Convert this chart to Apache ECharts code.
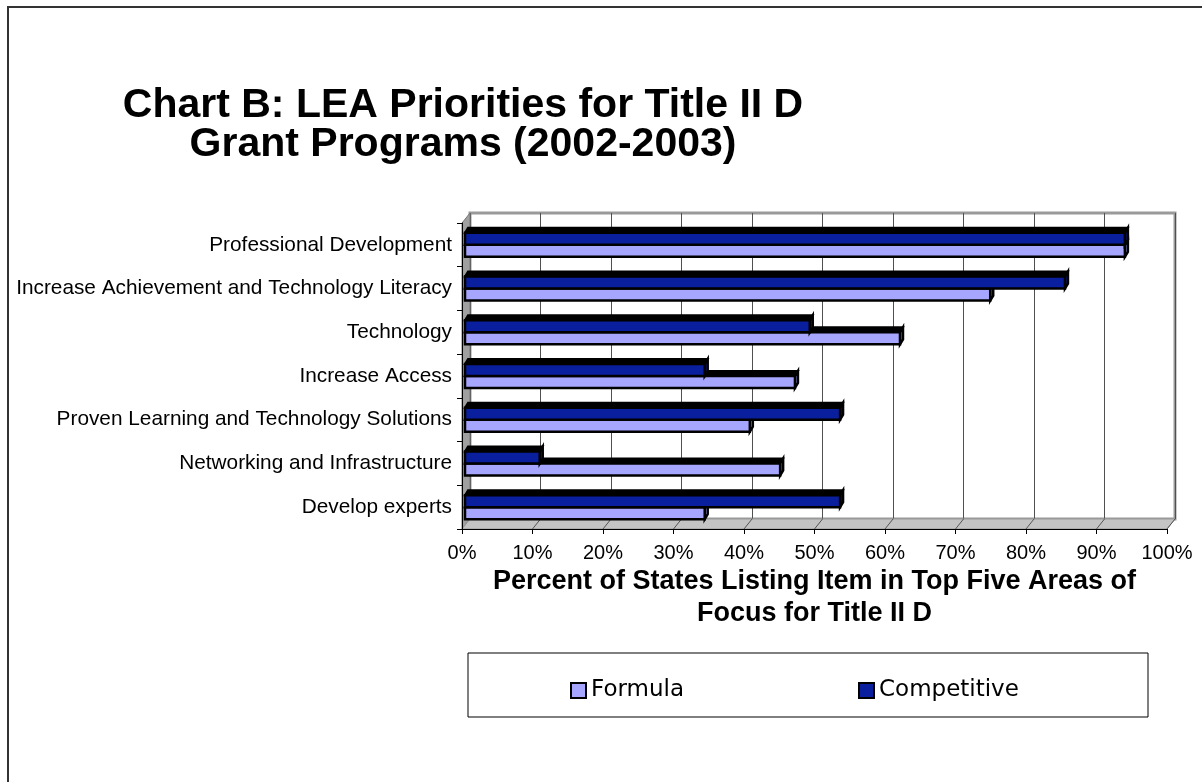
<!DOCTYPE html>
<html>
<head>
<meta charset="utf-8">
<script src="https://cdn.jsdelivr.net/npm/echarts@6/dist/echarts.min.js"></script>
<style>
  html, body { margin: 0; padding: 0; background: #fff; }
  #chart { width: 1202px; height: 782px; }
</style>
</head>
<body>
<div id="chart"></div>
<script>
// Priority areas, listed top to bottom
const categories = [
  'Professional Development',
  'Increase Achievement and Technology Literacy',
  'Technology',
  'Increase Access',
  'Proven Learning and Technology Solutions',
  'Networking and Infrastructure',
  'Develop experts'
];
// Percent of states listing each item (0-100)
const formula     = [93.6, 74.5, 61.7, 46.8, 40.4, 44.7, 34.0];
const competitive = [93.6, 85.1, 48.9, 34.0, 53.2, 10.6, 53.2];
const seriesNames = ['Formula', 'Competitive'];
const axisMax = 100;
const axisStep = 10;

const FONT = "'Liberation Sans', Arial, sans-serif";
const LIGHT = '#a6a6ff';
const DARK = '#0a1f9e';

// Front plane of the pseudo-3D box, and the depth offset of the back wall
const front = { left: 462, top: 223, width: 705, height: 306 };
const depth = { dx: 8, dy: -10 };
const barShift = { dx: 3, dy: 0 };
const BAR_H = 12;
const BAR_DEPTH = { x: 3, y: 5 };

function gridAt(dx, dy, extra) {
  return Object.assign({
    left: front.left + dx,
    top: front.top + dy,
    width: front.width,
    height: front.height,
    containLabel: false
  }, extra || {});
}

const chart = echarts.init(document.getElementById('chart'), null, { renderer: 'canvas' });

// Walls, floor and frame decorations derived from the box layout
const fx = v => front.left + front.width * v / axisMax;
const bottom = front.top + front.height;
const graphics = [
  { type: 'rect', z: 0, shape: { x: 8, y: 7, width: 1400, height: 1000 },
    style: { fill: 'none', stroke: '#333', lineWidth: 2 } },
  { type: 'polygon', z: 1,
    shape: { points: [[front.left, front.top], [front.left + depth.dx, front.top + depth.dy],
                      [front.left + depth.dx, bottom + depth.dy], [front.left, bottom]] },
    style: { fill: '#a0a0a0', stroke: '#777', lineWidth: 1 } },
  { type: 'polygon', z: 1,
    shape: { points: [[front.left, bottom], [front.left + depth.dx, bottom + depth.dy],
                      [fx(axisMax) + depth.dx, bottom + depth.dy], [fx(axisMax), bottom]] },
    style: { fill: '#c4c4c4', stroke: '#999', lineWidth: 1 } },
  { type: 'rect', z: 1, shape: { x: 468, y: 653, width: 680, height: 64 },
    style: { fill: 'none', stroke: '#000', lineWidth: 1 } }
];
for (let v = axisStep; v <= axisMax; v += axisStep) {
  graphics.push({ type: 'line', z: 1,
    shape: { x1: fx(v), y1: bottom, x2: fx(v) + depth.dx, y2: bottom + depth.dy },
    style: { stroke: '#555', lineWidth: 1 } });
}

// A bar with a front face, a dark top face and a small end face.
// slot -1 puts the bar above the band centre, slot 0 below it.
function bar3d(slot, fill) {
  return function (params, api) {
    const v = api.value(0);
    const c = api.value(1);
    const p0 = api.coord([0, c]);
    const p1 = api.coord([v, c]);
    const x0 = p0[0];
    const x1 = p1[0];
    const top = p0[1] + slot * BAR_H;
    const h = BAR_H;
    const d = BAR_DEPTH;
    return {
      type: 'group',
      children: [
        { type: 'polygon',
          shape: { points: [[x0, top], [x0 + d.x, top - d.y], [x1 + d.x, top - d.y], [x1, top]] },
          style: { fill: '#000', stroke: '#000', lineWidth: 2 } },
        { type: 'polygon',
          shape: { points: [[x1, top], [x1 + d.x, top - d.y], [x1 + d.x, top + h - d.y], [x1, top + h]] },
          style: { fill: fill, stroke: '#000', lineWidth: 2.5 } },
        { type: 'rect',
          shape: { x: x0, y: top, width: x1 - x0, height: h },
          style: { fill: fill, stroke: '#000', lineWidth: 2.5 } }
      ]
    };
  };
}

chart.setOption({
  animation: false,
  backgroundColor: '#fff',
  title: {
    text: 'Chart B: LEA Priorities for Title II D\nGrant Programs (2002-2003)',
    left: 458,
    textAlign: 'center',
    top: 81,
    textStyle: { fontFamily: FONT, fontSize: 41, fontWeight: 'bold', color: '#000', lineHeight: 39 }
  },
  legend: {
    data: seriesNames,
    left: 570,
    top: 679,
    padding: 0,
    itemWidth: 15,
    itemHeight: 15,
    itemGap: 174,
    icon: 'rect',
    itemStyle: { borderColor: '#000', borderWidth: 2 },
    textStyle: { fontFamily: "'DejaVu Sans', Verdana, sans-serif", fontSize: 23, color: '#000' }
  },
  graphic: graphics,
  grid: [
    gridAt(0, 0),
    gridAt(depth.dx, depth.dy, { show: true, backgroundColor: '#fff', borderColor: '#9a9a9a', borderWidth: 3 }),
    gridAt(barShift.dx, barShift.dy)
  ],
  xAxis: [
    {
      gridIndex: 0, type: 'value', min: 0, max: axisMax, interval: axisStep, z: 3,
      axisLine: { show: true, lineStyle: { color: '#000', width: 1 } },
      axisTick: { show: true, inside: false, length: 5, lineStyle: { color: '#000' } },
      axisLabel: { formatter: '{value}%', fontFamily: FONT, fontSize: 20, color: '#000', margin: 14 },
      splitLine: { show: false },
      name: 'Percent of States Listing Item in Top Five Areas of\nFocus for Title II D',
      nameLocation: 'middle',
      nameGap: 37,
      nameTextStyle: { fontFamily: FONT, fontSize: 27, fontWeight: 'bold', color: '#000', lineHeight: 32 }
    },
    {
      gridIndex: 1, type: 'value', min: 0, max: axisMax, interval: axisStep,
      axisLine: { show: false }, axisTick: { show: false }, axisLabel: { show: false },
      splitLine: { show: true, lineStyle: { color: '#505050', width: 1 } }
    },
    {
      gridIndex: 2, type: 'value', min: 0, max: axisMax, interval: axisStep, show: false
    }
  ],
  yAxis: [
    {
      gridIndex: 0, type: 'category', data: categories, inverse: true, z: 3,
      axisLine: { show: true, lineStyle: { color: '#000', width: 1 } },
      axisTick: { show: true, inside: false, length: 5, alignWithLabel: false, lineStyle: { color: '#000' } },
      axisLabel: { fontFamily: FONT, fontSize: 20.8, color: '#000', margin: 10 },
      splitLine: { show: false }
    },
    {
      gridIndex: 1, type: 'category', data: categories, inverse: true, show: false
    },
    {
      gridIndex: 2, type: 'category', data: categories, inverse: true, show: false
    }
  ],
  // Formula sits below Competitive in each band; Competitive is drawn last so its
  // front face hides the top face of the Formula bar beneath it.
  series: [
    {
      name: seriesNames[0], type: 'custom', xAxisIndex: 2, yAxisIndex: 2, z: 4,
      data: formula.map((v, i) => [v, i]),
      encode: { x: 0, y: 1 },
      itemStyle: { color: LIGHT },
      renderItem: bar3d(0, LIGHT)
    },
    {
      name: seriesNames[1], type: 'custom', xAxisIndex: 2, yAxisIndex: 2, z: 5,
      data: competitive.map((v, i) => [v, i]),
      encode: { x: 0, y: 1 },
      itemStyle: { color: DARK },
      renderItem: bar3d(-1, DARK)
    }
  ]
});
</script>
</body>
</html>
